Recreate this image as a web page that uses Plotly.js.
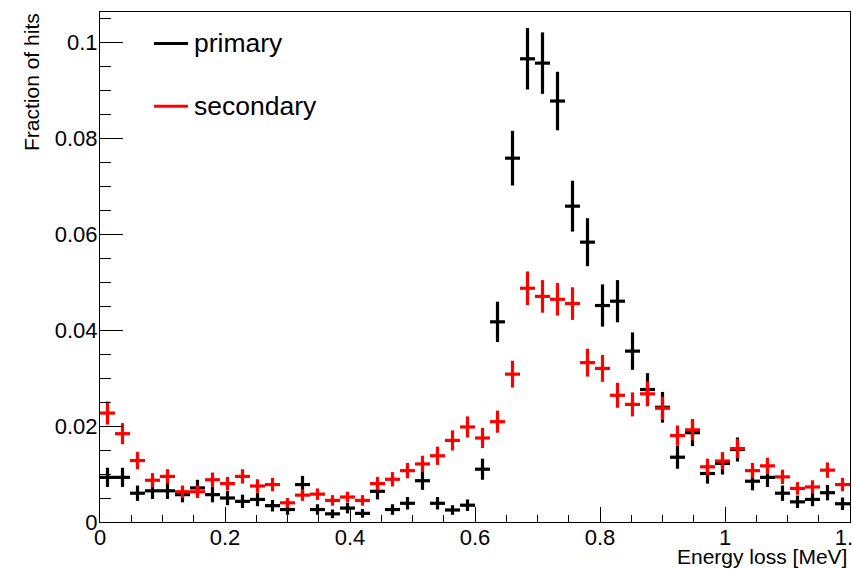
<!DOCTYPE html>
<html>
<head>
<meta charset="utf-8">
<script src="https://cdn.plot.ly/plotly-3.0.1.min.js"></script>
<style>html,body{margin:0;padding:0;background:#fff;}#chart{width:853px;height:569px;}</style>
</head>
<body>
<div id="chart"></div>
<script>
// Bin centres (Energy loss, MeV): 50 bins of width 0.024 between 0 and 1.2
var binCenters = [0.012,0.036,0.060,0.084,0.108,0.132,0.156,0.180,0.204,0.228,
  0.252,0.276,0.300,0.324,0.348,0.372,0.396,0.420,0.444,0.468,
  0.492,0.516,0.540,0.564,0.588,0.612,0.636,0.660,0.684,0.708,
  0.732,0.756,0.780,0.804,0.828,0.852,0.876,0.900,0.924,0.948,
  0.972,0.996,1.020,1.044,1.068,1.092,1.116,1.140,1.164,1.188];
var binHalfWidth = 0.012;

var primaryValues = [0.0093,0.0093,0.0060,0.0065,0.0065,0.0057,0.0071,0.0057,0.0050,0.0043,
  0.0047,0.0034,0.0026,0.0078,0.0026,0.0017,0.0029,0.0018,0.0064,0.0026,
  0.0039,0.0086,0.0039,0.0025,0.0035,0.0110,0.0417,0.0758,0.0965,0.0956,
  0.0877,0.0658,0.0583,0.0451,0.0460,0.0356,0.0276,0.0239,0.0135,0.0186,
  0.0101,0.0122,0.0151,0.0085,0.0093,0.0060,0.0042,0.0047,0.0061,0.0038];
var primaryErrors = [0.0020,0.0020,0.0016,0.0017,0.0017,0.0016,0.0017,0.0016,0.0015,0.0014,
  0.0014,0.0012,0.0011,0.0018,0.0011,0.0009,0.0011,0.0009,0.0017,0.0011,
  0.0013,0.0019,0.0013,0.0010,0.0012,0.0022,0.0042,0.0057,0.0064,0.0064,
  0.0061,0.0053,0.0050,0.0044,0.0044,0.0039,0.0034,0.0032,0.0024,0.0028,
  0.0021,0.0023,0.0025,0.0019,0.0020,0.0016,0.0013,0.0014,0.0016,0.0013];

var secondaryValues = [0.0227,0.0184,0.0128,0.0087,0.0095,0.0063,0.0063,0.0088,0.0080,0.0095,
  0.0075,0.0078,0.0040,0.0056,0.0058,0.0045,0.0052,0.0045,0.0080,0.0089,
  0.0107,0.0121,0.0138,0.0170,0.0198,0.0175,0.0209,0.0308,0.0487,0.0470,
  0.0464,0.0455,0.0332,0.0320,0.0264,0.0245,0.0267,0.0237,0.0180,0.0192,
  0.0115,0.0127,0.0153,0.0107,0.0117,0.0094,0.0070,0.0073,0.0108,0.0078];
var secondaryErrors = [0.0024,0.0022,0.0018,0.0015,0.0015,0.0013,0.0013,0.0015,0.0014,0.0015,
  0.0014,0.0014,0.0010,0.0012,0.0012,0.0011,0.0011,0.0011,0.0014,0.0015,
  0.0016,0.0017,0.0019,0.0021,0.0022,0.0021,0.0023,0.0028,0.0035,0.0034,
  0.0034,0.0034,0.0029,0.0028,0.0026,0.0025,0.0026,0.0024,0.0021,0.0022,
  0.0017,0.0018,0.0020,0.0016,0.0017,0.0015,0.0013,0.0014,0.0016,0.0014];

var seriesNames = ["primary", "secondary"];
var seriesColors = ["#000000", "#ff0000"];

var xTickVals = [0, 0.2, 0.4, 0.6, 0.8, 1, 1.2];
var xTickText = ["0", "0.2", "0.4", "0.6", "0.8", "1", "1.2"];
var yTickVals = [0, 0.02, 0.04, 0.06, 0.08, 0.1];
var yTickText = ["0", "0.02", "0.04", "0.06", "0.08", "0.1"];

var xTitle = "Energy loss [MeV]";
var yTitle = "Fraction of hits";

var FONT = "Liberation Sans, Arial, Helvetica, sans-serif";

function histTrace(vals, errs, name, color) {
  return {
    type: "scatter",
    mode: "markers",
    name: name,
    x: binCenters,
    y: vals,
    marker: {size: 0.1, color: color, opacity: 0},
    error_y: {type: "data", array: errs, visible: true, color: color, thickness: 3.2, width: 0},
    error_x: {type: "constant", value: binHalfWidth, visible: true, color: color, thickness: 3.2, width: 0},
    showlegend: false,
    hoverinfo: "x+y"
  };
}

var data = [
  histTrace(primaryValues, primaryErrors, seriesNames[0], seriesColors[0]),
  histTrace(secondaryValues, secondaryErrors, seriesNames[1], seriesColors[1])
];

// legend built from series names (ROOT-style line legend)
var legendY = [0.938, 0.815];
var shapes = [];
var annotations = [];
for (var i = 0; i < seriesNames.length; i++) {
  shapes.push({type: "line", xref: "paper", yref: "paper",
    x0: 0.072, x1: 0.1173, y0: legendY[i], y1: legendY[i],
    line: {color: seriesColors[i], width: 3}});
  annotations.push({xref: "paper", yref: "paper", x: 0.124, y: legendY[i] + 0.001,
    xanchor: "left", yanchor: "middle", showarrow: false, borderpad: 0,
    text: seriesNames[i], font: {family: FONT, size: 26.5, color: "#000"}});
}
annotations.push({xref: "paper", yref: "paper", x: 0.9973, y: -0.067,
  xanchor: "right", yanchor: "middle", showarrow: false, borderpad: 0,
  text: xTitle, font: {family: FONT, size: 21, color: "#000"}});
annotations.push({xref: "paper", yref: "paper", x: -0.092, y: 1.0,
  xanchor: "center", yanchor: "top", textangle: -90, showarrow: false, borderpad: 0,
  text: yTitle, font: {family: FONT, size: 21, color: "#000"}});

var layout = {
  width: 853, height: 569,
  margin: {l: 100, r: 3, t: 12, b: 47, pad: 0},
  paper_bgcolor: "#fff", plot_bgcolor: "#fff",
  font: {family: FONT, size: 22, color: "#000"},
  showlegend: false,
  xaxis: {
    range: [0, 1.2], showgrid: false, zeroline: false,
    showline: true, mirror: true, linecolor: "#000", linewidth: 1,
    ticks: "inside", ticklen: 15, tickwidth: 1, tickcolor: "#000",
    tickvals: xTickVals, ticktext: xTickText,
    tickfont: {family: FONT, size: 22, color: "#000"},
    ticklabeloverflow: "allow", ticklabelstandoff: -4,
    minor: {dtick: 0.05, ticks: "inside", ticklen: 7.5, tickwidth: 1, tickcolor: "#000", showgrid: false},
    fixedrange: true
  },
  yaxis: {
    range: [0, 0.10625], showgrid: false, zeroline: false,
    showline: true, mirror: true, linecolor: "#000", linewidth: 1,
    ticks: "inside", ticklen: 22.5, tickwidth: 1, tickcolor: "#000",
    tickvals: yTickVals, ticktext: yTickText,
    tickfont: {family: FONT, size: 22, color: "#000"},
    ticklabelstandoff: -3,
    minor: {dtick: 0.005, ticks: "inside", ticklen: 11, tickwidth: 1, tickcolor: "#000", showgrid: false},
    fixedrange: true
  },
  shapes: shapes,
  annotations: annotations
};

Plotly.newPlot("chart", data, layout, {staticPlot: true, displayModeBar: false});
</script>
</body>
</html>
